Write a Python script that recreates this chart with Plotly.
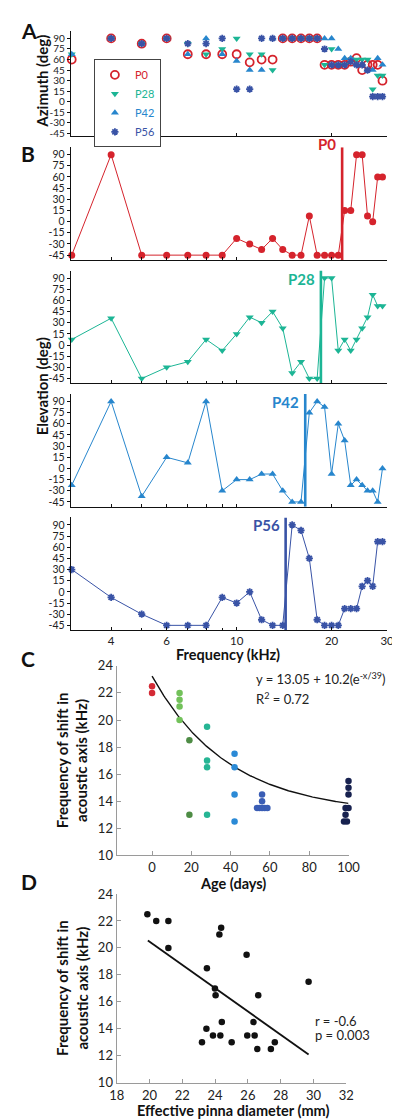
import numpy as np
import plotly.graph_objects as go

W, H = 400, 1119

# ---------------- data ----------------
freq_khz = [3, 4, 5, 6, 7, 8, 9, 10, 11, 12, 13, 14, 15, 16, 17, 18, 19, 20,
            21, 22, 23, 24, 25, 26, 27, 28, 29]
groups = ["P0", "P28", "P42", "P56"]

az_p0 = [60, 90, 82.5, 90, 67.5, 67.5, 67.5, 67.5, 56, 60, 60, 90, 90, 90, 90, 90,
         52.5, 52.5, 52.5, 52.5, 57, 62, 45, 52.5, 52.5, 52.5, 30]
az_p28 = [67.5, 90, 82.5, 90, 82.5, 67.5, 75, 90, 67.5, 67.5, 45, 90, 90, 90, 90, 90,
          52.5, 75, 52.5, 52.5, 60, 60, 60, 60, 18, 37.5, 37.5]
az_p42 = [67.5, 90, 82.5, 90, 67.5, 90, 67.5, 58, 45, 45, 90, 90, 90, 90, 90, 90,
          90, 90, 75, 62, 62, 52.5, 52.5, 45, 45, 62, 52.5]
az_p56 = [None, 90, 82.5, 90, 82.5, 82.5, 90, 18, 18, 90, 90, 90, 90, 90, 90, 90,
          75, 52.5, 52.5, 52.5, 57, 52.5, 52.5, 45, 7.5, 7.5, 7.5]

el_p0 = [-45, 90, -45, -45, -45, -45, -45, -22.5, -30, -37.5, -22.5, -37.5, -45, -45,
         7.5, -45, -45, -45, -45, 15, 15, 90, 90, 7.5, 0, 60, 60]
el_p28 = [7.5, 36, -45, -30, -22.5, 7.5, -7.5, 15, 37.5, 30, 45, 22.5, -37.5, -22.5,
          -45, -45, 90, 90, -7.5, 7.5, -7.5, 7.5, 22.5, 37.5, 67.5, 52.5, 52.5]
el_p42 = [-22.5, 90, -37.5, 15, 7.5, 90, -30, -15, -15, -7.5, -7.5, -30, -45, -45,
          75, 90, 82.5, -7.5, 60, 37.5, -22.5, -15, -22.5, -30, -30, -45, 0]
el_p56 = [30, -7.5, -30, -45, -45, -45, -7.5, -15, 0, -37.5, -45, -45, 90, 82.5, 45,
          -37.5, -45, -45, -45, -22.5, -22.5, -22.5, 7.5, 15, 7.5, 67.5, 67.5]

shift_freq_khz = [21.6, 18.5, 16.5, 14.3]

major_f = [4, 6, 10, 20, 30]
minor_f = [5, 7, 8, 9]

# Panel C: age (days) vs frequency of shift (kHz)
c_age_0 = [0, 0]
c_shift_0 = [22.5, 22]
c_age_14 = [14, 14, 14, 14]
c_shift_14 = [22, 21.5, 21, 20]
c_age_19 = [19, 19]
c_shift_19 = [18.5, 13]
c_age_28 = [28, 28, 28, 28]
c_shift_28 = [19.5, 17, 16.5, 13]
c_age_42 = [42, 42, 42, 42]
c_shift_42 = [17.5, 16.5, 14.5, 12.5]
c_age_56 = [56, 56, 53.4, 54.7, 56, 57.3, 58.7]
c_shift_56 = [14.5, 14, 13.5, 13.5, 13.5, 13.5, 13.5]
c_age_100 = [100, 100, 100, 98.5, 100, 101.5, 98.5, 101.5, 97.7, 99.2, 100.8, 102.3]
c_shift_100 = [15.5, 15, 14.5, 13.5, 13.5, 13.5, 13, 13, 12.5, 12.5, 12.5, 12.5]
fit_a, fit_b, fit_tau = 13.05, 10.2, 39.0
fit_age_span = [0, 100]

# Panel D: effective pinna diameter (mm) vs frequency of shift (kHz)
d_pinna = [19.87, 20.41, 21.15, 21.15, 23.5, 24.26, 24.37, 23.99, 24.03, 25.92, 26.63,
           29.7, 23.47, 23.87, 24.32, 24.41, 23.2, 25.01, 25.96, 26.41, 26.34, 26.57,
           27.4, 27.64]
d_shift = [22.5, 22, 22, 20, 18.5, 21, 21.5, 17, 16.5, 19.5, 16.5, 17.5, 14, 13.5, 13.5,
           14.5, 13, 13, 13.5, 13.5, 14.5, 12.5, 12.5, 13]
d_line_x = [19.9, 29.7]
d_line_y = [20.55, 12.1]

# ---------------- style ----------------
COL = {"P0": "#d5232c", "P28": "#1cb595", "P42": "#2786cd", "P56": "#3953a6"}
SYM_A = {"P0": "circle-open", "P28": "triangle-down", "P42": "triangle-up",
         "P56": "asterisk-open"}
SYM_B = {"P0": "circle", "P28": "triangle-down", "P42": "triangle-up",
         "P56": "asterisk-open"}
C_COLORS = ["#d42a35", "#72c15a", "#4e8c45", "#26b594", "#2b8ad6", "#3a5db5", "#17214f"]
FONT = "Lato, 'Open Sans', sans-serif"


def xd(a, b):
    return [a / W, b / W]


def yd(top, bottom):
    return [1 - bottom / H, 1 - top / H]


fig = go.Figure()

az = {"P0": az_p0, "P28": az_p28, "P42": az_p42, "P56": az_p56}
el = {"P0": el_p0, "P28": el_p28, "P42": el_p42, "P56": el_p56}

# Panel A
for g in groups:
    is_star = g == "P56"
    fig.add_trace(go.Scatter(
        x=freq_khz, y=az[g], mode="markers", name=f"<span style='color:{COL[g]}'>{g}</span>",
        marker=dict(symbol=SYM_A[g], size=8 if g == "P0" else (6 if is_star else 7),
                    color=COL[g], line=dict(width=1.8 if g == "P0" else (1.8 if is_star else 0), color=COL[g])),
        xaxis="x", yaxis="y", cliponaxis=False, showlegend=True))

# Panel B
for i, g in enumerate(groups):
    k = i + 2
    is_star = g == "P56"
    fig.add_trace(go.Scatter(
        x=freq_khz, y=el[g], mode="lines+markers",
        line=dict(color=COL[g], width=1),
        marker=dict(symbol=SYM_B[g], size=6 if is_star else 7, color=COL[g],
                    line=dict(width=1.8 if is_star else 0, color=COL[g])),
        xaxis=f"x{k}", yaxis=f"y{k}", cliponaxis=False, showlegend=False))
    fig.add_trace(go.Scatter(
        x=[shift_freq_khz[i], shift_freq_khz[i]], y=[-51.5, 100], mode="lines",
        line=dict(color=COL[g], width=2.6), xaxis=f"x{k}", yaxis=f"y{k}",
        showlegend=False, hoverinfo="skip"))

# Panel C
c_sets = [(c_age_0, c_shift_0), (c_age_14, c_shift_14), (c_age_19, c_shift_19),
          (c_age_28, c_shift_28), (c_age_42, c_shift_42), (c_age_56, c_shift_56),
          (c_age_100, c_shift_100)]
fit_x = np.linspace(fit_age_span[0], fit_age_span[1], 200)
fit_y = fit_a + fit_b * np.exp(-fit_x / fit_tau)
fig.add_trace(go.Scatter(x=fit_x, y=fit_y, mode="lines", line=dict(color="#111", width=1.4),
                         xaxis="x6", yaxis="y6", showlegend=False))
for (ax_, ay_), c in zip(c_sets, C_COLORS):
    fig.add_trace(go.Scatter(x=ax_, y=ay_, mode="markers",
                             marker=dict(size=6.5, color=c), xaxis="x6", yaxis="y6",
                             cliponaxis=False, showlegend=False))

# Panel D
fig.add_trace(go.Scatter(x=d_line_x, y=d_line_y, mode="lines", line=dict(color="#111", width=1.8),
                         xaxis="x7", yaxis="y7", showlegend=False))
fig.add_trace(go.Scatter(x=d_pinna, y=d_shift, mode="markers",
                         marker=dict(size=6.5, color="#111"), xaxis="x7", yaxis="y7",
                         cliponaxis=False, showlegend=False))

# ---------------- axes ----------------
logrange = [np.log10(2.98), np.log10(30.05)]
xdom_ab = xd(57.7, 390.9)
ang_ticks = list(range(-45, 91, 15))
ang_text = [str(v) for v in ang_ticks]

common_tick = dict(ticks="inside", ticklen=3, tickcolor="#111", showgrid=False, zeroline=False,
                   showline=True, linecolor="#111", linewidth=1)


def ang_y(fs):
    return dict(showgrid=False, zeroline=False, showline=True, linecolor="#111", linewidth=1,
                ticks="outside", ticklen=3, tickcolor="#111", tickvals=ang_ticks, ticktext=ang_text,
                tickfont=dict(size=fs, family=FONT, color="#222"))


minor_style = dict(tickvals=minor_f, ticks="inside", ticklen=2.5, tickcolor="#111", showgrid=False)

layout = dict(
    width=W, height=H, margin=dict(l=0, r=0, t=0, b=0),
    paper_bgcolor="white", plot_bgcolor="white",
    font=dict(family=FONT, color="#222"),
    showlegend=True,
    legend=dict(x=82 / W, y=1 - 44 / H, xanchor="left", yanchor="top",
                bordercolor="#444", borderwidth=1, bgcolor="white",
                font=dict(size=11, family=FONT), tracegroupgap=0, itemwidth=30),
)

# Panel A axes
layout["xaxis"] = dict(domain=xdom_ab, type="log", range=logrange, anchor="y",
                       tickvals=[10, 20], showticklabels=False, **common_tick)
layout["yaxis"] = dict(domain=yd(15, 121.7), range=[-48.4, 100.8], anchor="x", **ang_y(10))

b_bottoms = [247.5, 372.7, 497.9, 623.1]
for i, bb in enumerate(b_bottoms):
    k = i + 2
    last = i == 3
    xa = dict(domain=xdom_ab, type="log", range=logrange, anchor=f"y{k}", tickvals=major_f,
              ticktext=[str(v) for v in major_f], minor=minor_style,
              ticklabeloverflow="allow", showticklabels=last,
              tickfont=dict(size=11.5, family=FONT, color="#222"), **common_tick)
    layout[f"xaxis{k}"] = xa
    layout[f"yaxis{k}"] = dict(domain=yd(bb - 114.4, bb), range=[-51.5, 100], anchor=f"x{k}", **ang_y(10.5))

cd_axis = dict(showgrid=False, zeroline=False, showline=True, linecolor="#9a9a9a", linewidth=1.3,
               ticks="inside", ticklen=4, tickcolor="#9a9a9a",
               tickfont=dict(size=13, family=FONT, color="#222"))
layout["xaxis6"] = dict(domain=xd(106, 350), range=[-18, 100], anchor="y6",
                        tickvals=[0, 20, 40, 60, 80, 100], ticklabeloverflow="allow", **cd_axis)
layout["yaxis6"] = dict(domain=yd(659.3, 851.5), range=[10, 24], anchor="x6",
                        tickvals=list(range(10, 25, 2)), **cd_axis)
layout["xaxis7"] = dict(domain=xd(106, 347.7), range=[18, 32], anchor="y7",
                        tickvals=list(range(18, 33, 2)), ticklabeloverflow="allow", **cd_axis)
layout["yaxis7"] = dict(domain=yd(890.7, 1082.3), range=[10, 24], anchor="x7",
                        tickvals=list(range(10, 25, 2)), **cd_axis)

fig.update_layout(**layout)

# ---------------- annotations ----------------
ann = []


def pa(text, x, y, size=15, bold=True, angle=0, xanchor="center", yanchor="middle", color="#111"):
    ann.append(dict(text=f"<b>{text}</b>" if bold else text, x=x / W, y=1 - y / H,
                    xref="paper", yref="paper", showarrow=False, textangle=angle,
                    xanchor=xanchor, yanchor=yanchor,
                    font=dict(size=size, family=FONT, color=color)))


pa("A", 3, 15, size=21, xanchor="left")
pa("B", 3, 140, size=21, xanchor="left")
pa("C", 3, 652, size=21, xanchor="left")
pa("D", 3, 878, size=21, xanchor="left")
pa("Azimuth (deg)", 27, 66, size=15, angle=-90)
pa("Elevation (deg)", 27, 376, size=15, angle=-90)
pa("Frequency (kHz)", 223, 648, size=14.5)
pa("Age (days)", 228, 880, size=14.5)
pa("Effective pinna diameter (mm)", 228, 1110, size=14.5)
pa("Frequency of shift in<br>acoustic axis (kHz)", 59, 755, size=15, angle=-90)
pa("Frequency of shift in<br>acoustic axis (kHz)", 59, 986, size=15, angle=-90)
pa("y = 13.05 + 10.2(e<sup>-x/39</sup>)", 251, 672, size=13, bold=False, xanchor="left", color="#222")
pa("R<sup>2</sup> = 0.72", 251, 692, size=13, bold=False, xanchor="left", color="#222")
pa("r = -0.6", 313, 1020, size=13, bold=False, xanchor="left", color="#222")
pa("p = 0.003", 313, 1034, size=13, bold=False, xanchor="left", color="#222")

label_dom_y = [1.03, 0.93, 0.93, 0.93]
for i, g in enumerate(groups):
    k = i + 2
    ann.append(dict(text=f"<b>{g}</b>", x=np.log10(shift_freq_khz[i]), y=label_dom_y[i],
                    xref=f"x{k}", yref=f"y{k} domain", xanchor="right", yanchor="middle",
                    xshift=-4, showarrow=False,
                    font=dict(size=15, family=FONT, color=COL[g])))

fig.update_layout(annotations=ann)
fig.write_html("out.html")
